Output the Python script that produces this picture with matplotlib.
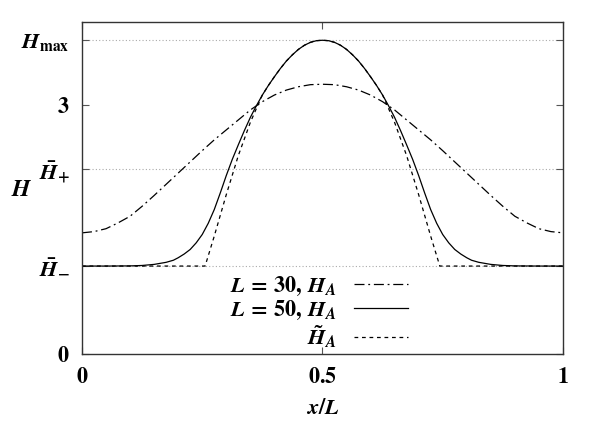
import matplotlib as mpl
mpl.use("Agg")
import matplotlib.pyplot as plt

plt.rcParams["mathtext.fontset"] = "stix"
plt.rcParams["font.family"] = "STIXGeneral"
plt.rcParams["font.weight"] = "bold"

# y-axis special levels
H_minus = 1.06
H_plus = 2.23
H_max = 3.78

# L = 30, H_A (dash-dot)
x30 = [0, 0.025, 0.05, 0.075, 0.1, 0.125, 0.15, 0.175, 0.2, 0.225, 0.25, 0.275, 0.3,
       0.325, 0.35, 0.375, 0.4, 0.425, 0.45, 0.475, 0.5,
       0.525, 0.55, 0.575, 0.6, 0.625, 0.65, 0.675, 0.7, 0.725, 0.75, 0.775, 0.8,
       0.825, 0.85, 0.875, 0.9, 0.925, 0.95, 0.975, 1.0]
h30 = [1.46, 1.475, 1.51, 1.58, 1.66, 1.78, 1.91, 2.045, 2.18, 2.315, 2.45, 2.58, 2.70,
       2.82, 2.94, 3.04, 3.12, 3.18, 3.22, 3.245, 3.25,
       3.245, 3.22, 3.18, 3.12, 3.04, 2.94, 2.82, 2.70, 2.58, 2.45, 2.315, 2.18,
       2.045, 1.91, 1.78, 1.66, 1.58, 1.51, 1.475, 1.46]

# L = 50, H_A (solid)
x50 = [0, 0.05, 0.1, 0.125, 0.15, 0.175, 0.19, 0.2, 0.2125, 0.225, 0.2375, 0.25, 0.2625,
       0.275, 0.2875, 0.3, 0.3125, 0.325, 0.3375, 0.35, 0.3625,
       0.375, 0.3875, 0.4, 0.4125, 0.425, 0.4375, 0.45, 0.4625, 0.475, 0.4875, 0.5,
       0.5125, 0.525, 0.5375, 0.55, 0.5625, 0.575, 0.5875, 0.6, 0.6125, 0.625,
       0.6375, 0.65, 0.6625, 0.675, 0.6875, 0.7, 0.7125, 0.725, 0.7375, 0.75,
       0.7625, 0.775, 0.7875, 0.8, 0.81, 0.825, 0.85, 0.875, 0.9, 0.95, 1.0]
h50 = [1.06, 1.06, 1.062, 1.067, 1.08, 1.105, 1.13, 1.16, 1.205, 1.26, 1.34, 1.44, 1.575,
       1.74, 1.94, 2.15, 2.345, 2.52, 2.69, 2.85, 2.99,
       3.12, 3.235, 3.34, 3.44, 3.53, 3.605, 3.67, 3.72, 3.755, 3.775, 3.78,
       3.775, 3.755, 3.72, 3.67, 3.605, 3.53, 3.44, 3.34, 3.235, 3.12,
       2.99, 2.85, 2.69, 2.52, 2.345, 2.15, 1.94, 1.74, 1.575, 1.44,
       1.34, 1.26, 1.205, 1.16, 1.13, 1.105, 1.08, 1.067, 1.062, 1.06, 1.06]

# H~_A (dashed)
xt = [0, 0.256, 0.275, 0.3, 0.325, 0.35, 0.365, 0.375, 0.3875, 0.4, 0.4125, 0.425,
      0.4375, 0.45, 0.4625, 0.475, 0.4875, 0.5,
      0.5125, 0.525, 0.5375, 0.55, 0.5625, 0.575, 0.5875, 0.6, 0.6125, 0.625,
      0.635, 0.65, 0.675, 0.7, 0.725, 0.744, 1.0]
ht = [1.06, 1.06, 1.42, 1.92, 2.39, 2.79, 2.99, 3.12, 3.235, 3.34, 3.44, 3.53,
      3.605, 3.67, 3.72, 3.755, 3.775, 3.78,
      3.775, 3.755, 3.72, 3.67, 3.605, 3.53, 3.44, 3.34, 3.235, 3.12,
      2.99, 2.79, 2.39, 1.92, 1.42, 1.06, 1.06]

yticks = [0, H_minus, H_plus, 3, H_max]
ytick_labels = [r"$\mathbf{0}$", r"$\bar{\mathbfit{H}}_{\mathbf{-}}$", r"$\bar{\mathbfit{H}}_{\mathbf{+}}$",
                r"$\mathbf{3}$", r"$\mathbfit{H}_{\mathbf{max}}$"]
xticks = [0, 0.5, 1]
xtick_labels = [r"$\mathbf{0}$", r"$\mathbf{0.5}$", r"$\mathbf{1}$"]

fig = plt.figure(figsize=(6.05, 4.23), dpi=100)
ax = fig.add_axes([0.1355, 0.163, 0.795, 0.785])

for yv in [H_minus, H_plus, H_max]:
    ax.axhline(yv, color="#aaaaaa", lw=0.8, ls=(0, (1, 2)), zorder=0)

ax.plot(x30, h30, color="black", lw=0.9, dashes=(8, 3, 1.5, 3),
        label=r"$\mathbfit{L}\,\mathbf{=}\,\mathbf{30,}\,\mathbfit{H}_{\mathbfit{A}}$")
ax.plot(x50, h50, color="black", lw=0.9,
        label=r"$\mathbfit{L}\,\mathbf{=}\,\mathbf{50,}\,\mathbfit{H}_{\mathbfit{A}}$")
ax.plot(xt, ht, color="black", lw=0.9, dashes=(3, 3),
        label=r"$\tilde{\mathbfit{H}}_{\mathbfit{A}}$")

ax.set_xlim(0, 1)
ax.set_ylim(0, 4)
ax.set_xticks(xticks)
ax.set_xticklabels(xtick_labels)
ax.set_yticks(yticks)
ax.set_yticklabels(ytick_labels)
ax.tick_params(direction="in", length=5, width=0.8, top=True, right=True,
               labelsize=16, pad=9, color="#555555")
for s in ax.spines.values():
    s.set_color("#333333")
    s.set_linewidth(1.0)

ax.set_xlabel(r"$\mathbfit{x}\mathbf{/}\mathbfit{L}$", fontsize=16, labelpad=8)
ax.set_ylabel(r"$\mathbfit{H}$", fontsize=17, rotation=0)
ax.yaxis.set_label_coords(-0.125, 0.46)

ax.legend(loc="upper right", bbox_to_anchor=(0.70, 0.272), frameon=False,
          markerfirst=False, fontsize=16, handlelength=2.4, labelspacing=0.05,
          borderpad=0, handletextpad=0.8)

fig.savefig("out.png", dpi=100)
